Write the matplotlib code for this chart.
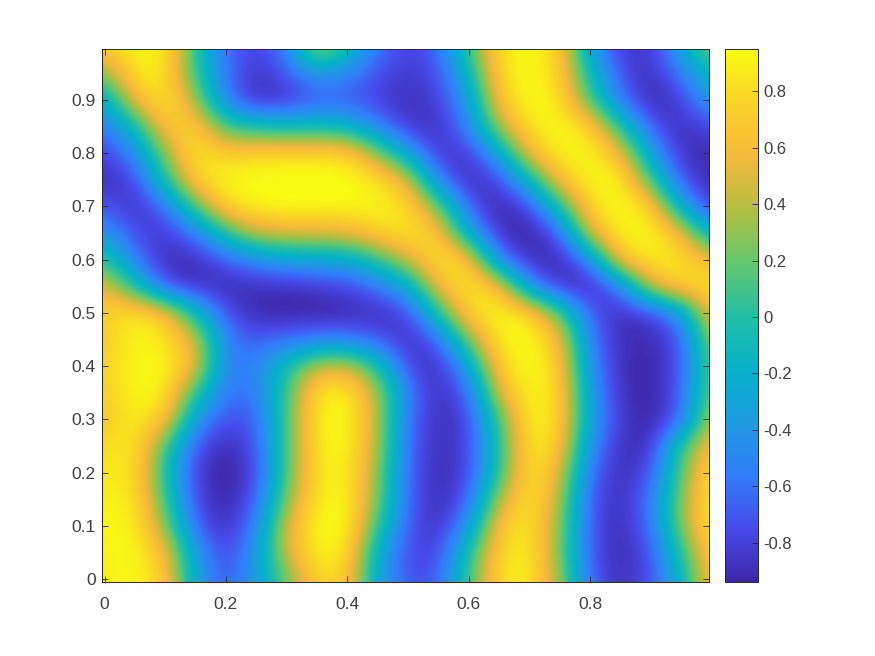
import numpy as np
import matplotlib
matplotlib.use('Agg')
import matplotlib.pyplot as plt
from matplotlib.colors import LinearSegmentedColormap

plt.rcParams['font.family'] = ['Liberation Sans', 'DejaVu Sans']

# values, rows from y=0 upwards, columns x=0,0.05,...,1
x_ticks = [0, 0.2, 0.4, 0.6, 0.8]
y_ticks = [0, 0.1, 0.2, 0.3, 0.4, 0.5, 0.6, 0.7, 0.8, 0.9]
cb_ticks = [-0.8, -0.6, -0.4, -0.2, 0, 0.2, 0.4, 0.6, 0.8]

field = [
    [.90, .95, .75, -.35, -.75, -.35, .20, .80, .75, -.30, -.75, -.70, .10, .85, .92, .35, -.70, -.90, -.75, -.15, .70],
    [.90, .96, .65, -.40, -.80, -.40, .50, .92, .90, -.30, -.78, -.80, .00, .82, .92, .25, -.75, -.92, -.75, .00, .80],
    [.93, .93, .30, -.70, -.90, -.55, .55, .96, .97, .05, -.72, -.90, -.40, .72, .90, .30, -.75, -.92, -.62, .30, .92],
    [.90, .89, .10, -.80, -.95, -.70, .28, .90, .95, .25, -.70, -.92, -.70, .42, .90, .40, -.75, -.90, -.60, .30, .92],
    [.85, .88, -.05, -.85, -.97, -.80, .15, .88, .92, .30, -.70, -.92, -.80, .05, .90, .55, -.68, -.90, -.75, .20, .87],
    [.80, .90, .10, -.75, -.92, -.75, .15, .90, .95, .40, -.68, -.90, -.80, .00, .93, .75, -.50, -.90, -.90, .10, .70],
    [.68, .91, .72, -.45, -.75, -.70, .12, .92, .97, .40, -.65, -.90, -.80, .10, .95, .82, -.35, -.85, -.95, -.70, .50],
    [.72, .94, .92, .00, -.60, -.60, .10, .90, .93, .40, -.58, -.90, -.70, .55, .95, .82, -.40, -.90, -.95, -.70, .30],
    [.75, .95, .95, .60, -.60, -.50, -.05, .48, .52, .00, -.80, -.90, -.35, .78, .97, .78, -.50, -.90, -.95, -.75, .25],
    [.70, .94, .87, .50, -.55, -.70, -.60, -.55, -.55, -.70, -.90, -.70, .25, .92, .97, .65, -.60, -.90, -.90, -.75, .40],
    [.75, .90, .72, -.10, -.75, -.92, -.95, -.95, -.93, -.90, -.80, .00, .82, .95, .87, .20, -.70, -.90, -.85, -.45, .70],
    [.55, .00, -.80, -.90, -.92, -.90, -.90, -.85, -.80, -.60, -.30, .62, .88, .72, -.50, -.90, -.95, -.60, .50, .80, .87],
    [.10, -.60, -.90, -.90, -.70, -.50, -.35, -.30, -.30, .05, .45, .90, .77, -.60, -.90, -.92, -.55, .72, .90, .87, .55],
    [-.40, -.75, -.85, -.60, .00, .45, .50, .50, .55, .77, .88, .72, -.30, -.90, -.95, -.75, .55, .93, .95, .62, -.25],
    [-.70, -.90, -.65, .15, .82, .93, .95, .95, .95, .93, .82, .25, -.70, -.95, -.80, .00, .82, .97, .82, -.30, -.85],
    [-.90, -.80, .00, .80, .95, .97, .99, .99, .97, .88, .55, -.60, -.92, -.80, -.15, .67, .95, .95, .10, -.75, -.92],
    [-.80, -.50, .30, .90, .72, .82, .82, .82, .82, .30, -.35, -.85, -.85, -.30, .62, .93, .93, .62, -.35, -.90, -.90],
    [-.60, -.10, .72, .77, .10, -.05, -.10, -.10, -.15, -.55, -.85, -.90, -.50, .35, .88, .95, .82, .00, -.70, -.92, -.75],
    [-.30, .62, .90, .35, -.60, -.92, -.88, -.70, -.72, -.80, -.90, -.80, -.40, .72, .97, .88, .10, -.60, -.95, -.80, -.35],
    [.25, .90, .88, .05, -.60, -.88, -.70, -.40, -.50, -.75, -.85, -.75, -.15, .82, .97, .78, -.10, -.75, -.90, -.60, -.05],
    [.75, .92, .92, .00, -.65, -.80, -.55, .55, -.05, -.60, -.80, -.65, .10, .87, .95, .78, -.40, -.85, -.85, -.25, .30],
]

parula_like = ['#3e26a8', '#474bea', '#327dfa', '#1e9be1', '#05b2c8', '#23bea5',
               '#64c86e', '#b4be41', '#f5b93c', '#fad228', '#f9fb14']
cmap = LinearSegmentedColormap.from_list('parula_like', parula_like, N=256)

fig = plt.figure(figsize=(8.75, 6.56), dpi=100)
ax = fig.add_axes([101.5 / 875, 1 - 582 / 656, 607 / 875, 533 / 656])
cax = fig.add_axes([725 / 875, 1 - 582 / 656, 33 / 875, 533 / 656])

im = ax.imshow(field, origin='lower', extent=(-0.025, 1.025, -0.025, 1.025), aspect='auto',
               cmap=cmap, vmin=-0.94, vmax=0.95, interpolation='bicubic')
ax.set_xlim(-0.005, 0.995)
ax.set_ylim(-0.005, 0.995)
ax.set_xticks(x_ticks)
ax.set_xticklabels(['0', '0.2', '0.4', '0.6', '0.8'])
ax.set_yticks(y_ticks)
ax.set_yticklabels(['0', '0.1', '0.2', '0.3', '0.4', '0.5', '0.6', '0.7', '0.8', '0.9'])
ax.tick_params(direction='in', top=True, right=True, length=4.5, width=0.6,
               labelsize=12.5, labelcolor='#404040', color='#262626', pad=4)
ax.tick_params(axis='x', pad=11)

cb = fig.colorbar(im, cax=cax)
cb.set_ticks(cb_ticks)
cb.set_ticklabels(['-0.8', '-0.6', '-0.4', '-0.2', '0', '0.2', '0.4', '0.6', '0.8'])
cb.ax.tick_params(direction='in', length=4.5, width=0.6, labelsize=12,
                  labelcolor='#404040', color='#262626', pad=4)

for a in (ax, cax):
    for s in a.spines.values():
        s.set_linewidth(0.7)
        s.set_color('#262626')

fig.savefig('out.png', dpi=100)
